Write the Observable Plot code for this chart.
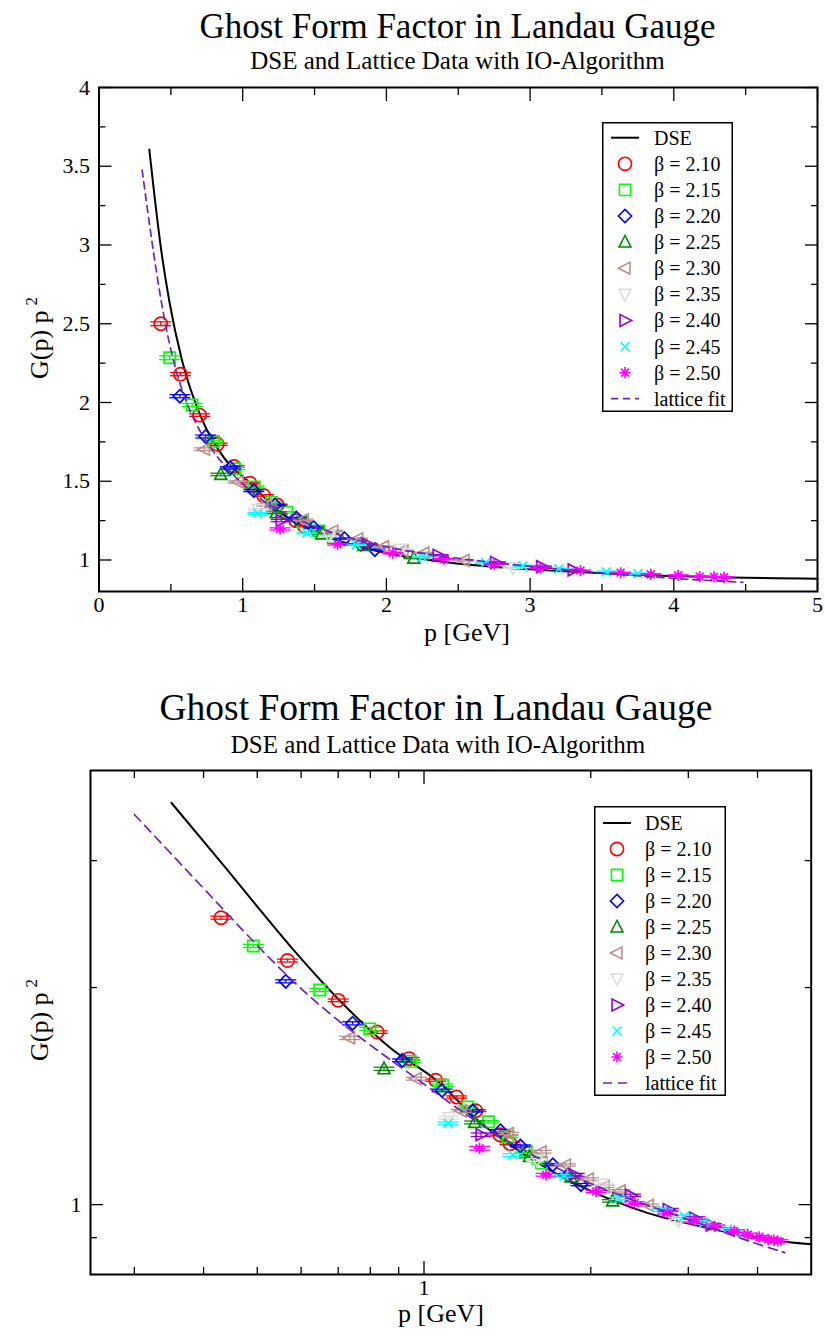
<!DOCTYPE html>
<html><head><meta charset="utf-8">
<script src="https://cdn.jsdelivr.net/npm/d3@7"></script>
<script src="https://cdn.jsdelivr.net/npm/@observablehq/plot@0.6"></script>
<style>
body{margin:0;background:#fff;font-family:"Liberation Serif","Times New Roman",serif;color:#000;}
#wrap{position:relative;width:825px;height:1338px;overflow:hidden;}
.abs{position:absolute;white-space:nowrap;line-height:1;}
.ctr{transform:translate(-50%,-50%);}
.title{font-size:35px;}
.title2{font-size:37.5px;}
.sub{font-size:25px;}
.axl{font-size:26px;}
.ylab{font-size:26px;transform:translate(-50%,-50%) rotate(-90deg);}
.ylab sup{font-size:17px;vertical-align:0;position:relative;top:-11px;margin-left:5px;}
.plotbox{position:absolute;left:0;}
</style></head><body><div id="wrap"></div>
<script>
// ---------------- data ----------------
const betas = ["2.10","2.15","2.20","2.25","2.30","2.35","2.40","2.45","2.50"];
const colors = ["#ff0000","#00ff00","#0000ff","#008b00","#bc8f8f","#dcdcdc","#9400d3","#00ffff","#ff00ff"];
const symbolKinds = ["circle","square","diamond","triangleUp","triangleLeft","triangleDown","triangleRight","cross","star"];

const p210 = [0.43, 0.567, 0.70, 0.823, 0.94, 1.05, 1.145, 1.24, 1.37, 1.43];
const g210 = [2.50, 2.18, 1.92, 1.735, 1.594, 1.488, 1.41, 1.35, 1.25, 1.215];
const e210 = [0.012, 0.010, 0.008, 0.007, 0.006, 0.005, 0.005, 0.004, 0.004, 0.004];

const p215 = [0.492, 0.648, 0.798, 0.945, 1.08, 1.20, 1.307, 1.417, 1.53, 1.63];
const g215 = [2.284, 1.984, 1.753, 1.58, 1.464, 1.366, 1.303, 1.242, 1.185, 1.142];
const e215 = [0.012, 0.010, 0.008, 0.007, 0.006, 0.005, 0.005, 0.004, 0.004, 0.004];

const p220 = [0.563, 0.743, 0.914, 1.078, 1.225, 1.374, 1.493, 1.708, 1.82, 1.92];
const g220 = [2.04, 1.784, 1.585, 1.44, 1.349, 1.266, 1.206, 1.136, 1.10, 1.066];
const e220 = [0.010, 0.009, 0.007, 0.006, 0.005, 0.005, 0.004, 0.004, 0.004, 0.004];

const p225 = [0.847, 1.234, 1.55, 1.843, 2.19];
const g225 = [1.543, 1.30, 1.166, 1.092, 1.012];
const e225 = [0.008, 0.006, 0.005, 0.004, 0.004];

const p230 = [0.734, 0.968, 1.167, 1.42, 1.627, 1.80, 1.98, 2.115, 2.26, 2.54];
const g230 = [1.703, 1.495, 1.349, 1.255, 1.184, 1.135, 1.085, 1.06, 1.045, 0.998];
const e230 = [0.009, 0.007, 0.006, 0.005, 0.005, 0.004, 0.004, 0.004, 0.004, 0.004];

const p235 = [1.11, 1.60, 2.10, 2.88];
const g235 = [1.32, 1.153, 1.068, 0.95];
const e235 = [0.006, 0.005, 0.004, 0.004];

const p240 = [1.268, 1.867, 2.36, 2.76, 3.08, 3.30];
const g240 = [1.25, 1.10, 1.03, 0.984, 0.958, 0.937];
const e240 = [0.007, 0.005, 0.004, 0.004, 0.004, 0.004];

const p245 = [1.105, 1.447, 1.79, 2.25, 2.69, 2.95, 3.20, 3.53, 3.75];
const g245 = [1.296, 1.172, 1.096, 1.02, 0.983, 0.963, 0.944, 0.925, 0.913];
const e245 = [0.006, 0.005, 0.004, 0.004, 0.004, 0.004, 0.004, 0.004, 0.004];

const p250 = [1.26, 1.661, 2.045, 2.40, 2.75, 3.07, 3.35, 3.63, 3.84, 4.03, 4.18, 4.28, 4.35];
const g250 = [1.197, 1.10, 1.043, 1.005, 0.974, 0.95, 0.933, 0.919, 0.909, 0.902, 0.895, 0.893, 0.89];
const e250 = [0.007, 0.005, 0.004, 0.004, 0.004, 0.004, 0.004, 0.004, 0.004, 0.004, 0.004, 0.004, 0.004];

const dseP = [0.35, 0.437, 0.49, 0.577, 0.71, 0.873, 1.05, 1.27, 1.5, 1.92, 2.53, 3.34, 4.2, 5.0];
const dseG = [3.607, 2.94, 2.64, 2.27, 1.907, 1.645, 1.49, 1.296, 1.18, 1.06, 0.974, 0.924, 0.893, 0.881];

const fitP = [0.30, 0.437, 0.577, 0.76, 1.0, 1.268, 1.92, 2.91, 3.84, 4.48];
const fitG = [3.476, 2.553, 2.032, 1.707, 1.472, 1.282, 1.071, 0.963, 0.89, 0.858];

const titleText = "Ghost Form Factor in Landau Gauge";
const subtitleText = "DSE and Lattice Data with IO-Algorithm";
const xLabelText = "p [GeV]";
const legendDSE = "DSE";
const legendFit = "lattice fit";

// linear chart ticks
const linXMajor = [0, 1, 2, 3, 4, 5];
const linXMinor = [0.5, 1.5, 2.5, 3.5, 4.5];
const linYMajor = [1, 1.5, 2, 2.5, 3, 3.5, 4];
const linYMinor = [1.25, 1.75, 2.25, 2.75, 3.25, 3.75];
// log chart ticks
const logXMajor = [1];
const logXMinor = [0.3, 0.4, 0.5, 0.6, 0.7, 0.8, 0.9, 2, 3, 4];
const logYMajor = [1];
const logYMinor = [0.9, 2, 3];

const seriesP = [p210, p215, p220, p225, p230, p235, p240, p245, p250];
const seriesG = [g210, g215, g220, g225, g230, g235, g240, g245, g250];
const seriesE = [e210, e215, e220, e225, e230, e235, e240, e245, e250];

// ---------------- symbols ----------------
function makeSymbol(kind) {
  return {draw(ctx, size) {
    const r = Math.sqrt(size / Math.PI);
    switch (kind) {
      case "circle": ctx.moveTo(r, 0); ctx.arc(0, 0, r, 0, 2 * Math.PI); break;
      case "square": { const s = r * 0.85; ctx.moveTo(-s, -s); ctx.lineTo(s, -s); ctx.lineTo(s, s); ctx.lineTo(-s, s); ctx.closePath(); break; }
      case "diamond": ctx.moveTo(0, -r); ctx.lineTo(r, 0); ctx.lineTo(0, r); ctx.lineTo(-r, 0); ctx.closePath(); break;
      case "triangleUp": ctx.moveTo(0, -r); ctx.lineTo(0.9 * r, 0.75 * r); ctx.lineTo(-0.9 * r, 0.75 * r); ctx.closePath(); break;
      case "triangleDown": ctx.moveTo(0, r); ctx.lineTo(0.9 * r, -0.75 * r); ctx.lineTo(-0.9 * r, -0.75 * r); ctx.closePath(); break;
      case "triangleLeft": ctx.moveTo(-r, 0); ctx.lineTo(0.75 * r, -0.9 * r); ctx.lineTo(0.75 * r, 0.9 * r); ctx.closePath(); break;
      case "triangleRight": ctx.moveTo(r, 0); ctx.lineTo(-0.75 * r, -0.9 * r); ctx.lineTo(-0.75 * r, 0.9 * r); ctx.closePath(); break;
      case "cross": { const s = 0.68 * r; ctx.moveTo(-s, -s); ctx.lineTo(s, s); ctx.moveTo(s, -s); ctx.lineTo(-s, s); break; }
      case "star": { const s = 0.85 * r, d = 0.6 * r; ctx.moveTo(-s, 0); ctx.lineTo(s, 0); ctx.moveTo(0, -s); ctx.lineTo(0, s); ctx.moveTo(-d, -d); ctx.lineTo(d, d); ctx.moveTo(d, -d); ctx.lineTo(-d, d); break; }
      case "hline": ctx.moveTo(-r, 0); ctx.lineTo(r, 0); break;
    }
  }};
}
const MR = 6.6;   // marker radius
const CAP = 10.5; // error cap half width
const FIT_COLOR = "#7221bc";

const seriesData = betas.map((b, k) => seriesP[k].map((p, i) => ({p, g: seriesG[k][i], e: seriesE[k][i]})));
const dseData = dseP.map((p, i) => ({p, g: dseG[i]}));
const fitData = fitP.map((p, i) => ({p, g: fitG[i]}));

function axisMarks(xMaj, xMin, yMaj, yMin) {
  const fmt = d => String(d);
  const m = [];
  for (const a of ["bottom", "top"]) {
    m.push(Plot.axisX(xMaj, {anchor: a, tickSize: -13, text: null, label: null, strokeWidth: 1.3}));
    m.push(Plot.axisX(xMin, {anchor: a, tickSize: -7, text: null, label: null, strokeWidth: 1.3}));
  }
  for (const a of ["left", "right"]) {
    m.push(Plot.axisY(yMaj, {anchor: a, tickSize: -13, text: null, label: null, strokeWidth: 1.3}));
    m.push(Plot.axisY(yMin, {anchor: a, tickSize: -7, text: null, label: null, strokeWidth: 1.3}));
  }
  m.push(Plot.axisX(xMaj, {anchor: "bottom", tickSize: 0, tickPadding: 5, tickFormat: fmt, label: null}));
  m.push(Plot.axisY(yMaj, {anchor: "left", tickSize: 0, tickPadding: 9, tickFormat: fmt, label: null}));
  return m;
}

function dataMarks(dash) {
  const m = [];
  m.push(Plot.line(dseData, {x: "p", y: "g", stroke: "black", strokeWidth: 2, curve: "monotone-x"}));
  seriesData.forEach((data, k) => {
    const c = colors[k];
    m.push(Plot.ruleX(data, {x: "p", y1: d => d.g - d.e, y2: d => d.g + d.e, stroke: c, strokeWidth: 1.3}));
    m.push(Plot.dot(data, {x: "p", y: d => d.g + d.e, r: CAP, symbol: makeSymbol("hline"), fill: "none", stroke: c, strokeWidth: 1.3}));
    m.push(Plot.dot(data, {x: "p", y: d => d.g - d.e, r: CAP, symbol: makeSymbol("hline"), fill: "none", stroke: c, strokeWidth: 1.3}));
    m.push(Plot.dot(data, {x: "p", y: "g", r: MR, symbol: makeSymbol(symbolKinds[k]), fill: "none", stroke: c, strokeWidth: 1.7}));
  });
  m.push(Plot.line(fitData, {x: "p", y: "g", stroke: FIT_COLOR, strokeWidth: 1.7, strokeDasharray: dash, curve: "basis"}));
  return m;
}

const baseStyle = {fontFamily: "Liberation Serif, Times New Roman, serif", fontSize: "22px", color: "black", background: "white", overflow: "visible"};

const chartLin = Plot.plot({
  width: 825, height: 660,
  marginLeft: 98.5, marginRight: 8, marginTop: 87, marginBottom: 69,
  style: baseStyle,
  x: {type: "linear", domain: [0, 5]},
  y: {type: "linear", domain: [0.8, 4]},
  marks: [
    ...dataMarks("7,5"),
    ...axisMarks(linXMajor, linXMinor, linYMajor, linYMinor),
    Plot.frame({stroke: "black", strokeWidth: 2})
  ]
});

const chartLog = Plot.plot({
  width: 825, height: 660,
  marginLeft: 90, marginRight: 14.3, marginTop: 90, marginBottom: 66,
  style: baseStyle,
  x: {type: "log", domain: [0.25, 5]},
  y: {type: "log", domain: [0.8, 4]},
  marks: [
    ...dataMarks("9,6"),
    ...axisMarks(logXMajor, logXMinor, logYMajor, logYMinor),
    Plot.frame({stroke: "black", strokeWidth: 2})
  ]
});

const wrap = document.getElementById("wrap");
function place(node, top) {
  const d = document.createElement("div");
  d.className = "plotbox"; d.style.top = top + "px";
  d.appendChild(node); wrap.appendChild(d);
}
place(chartLin, 0);
place(chartLog, 680);

function addText(html, cls, x, y) {
  const d = document.createElement("div");
  d.className = "abs " + cls;
  d.style.left = x + "px"; d.style.top = y + "px";
  d.innerHTML = html;
  wrap.appendChild(d);
  return d;
}
// titles & labels, chart 1
addText(titleText, "title ctr", 457.5, 26);
addText(subtitleText, "sub ctr", 457.5, 60);
addText(xLabelText, "axl ctr", 467, 633);
addText("G(p) p<sup>2</sup>", "ylab", 40, 338);
// chart 2
addText(titleText, "title2 ctr", 436, 708);
addText(subtitleText, "sub ctr", 438, 744);
addText(xLabelText, "axl ctr", 441, 1314);
addText("G(p) p<sup>2</sup>", "ylab", 40, 1020);

function addLegend(left, top, w, h, symX, lineX1, lineX2, textX, y0, dy, dash) {
  const ns = "http://www.w3.org/2000/svg";
  const svg = document.createElementNS(ns, "svg");
  svg.setAttribute("width", w); svg.setAttribute("height", h);
  svg.style.position = "absolute"; svg.style.left = left + "px"; svg.style.top = top + "px";
  svg.setAttribute("font-family", "Liberation Serif, Times New Roman, serif");
  svg.setAttribute("font-size", "20");
  const rect = document.createElementNS(ns, "rect");
  rect.setAttribute("x", 0.75); rect.setAttribute("y", 0.75);
  rect.setAttribute("width", w - 1.5); rect.setAttribute("height", h - 1.5);
  rect.setAttribute("fill", "white"); rect.setAttribute("stroke", "black"); rect.setAttribute("stroke-width", 1.5);
  svg.appendChild(rect);
  const entries = [{label: legendDSE, type: "line", stroke: "black", dash: null, width: 2}];
  betas.forEach((b, k) => entries.push({label: "β = " + b, type: "sym", kind: symbolKinds[k], stroke: colors[k]}));
  entries.push({label: legendFit, type: "line", stroke: FIT_COLOR, dash: dash, width: 1.7});
  entries.forEach((e, i) => {
    const y = y0 + i * dy;
    if (e.type === "line") {
      const l = document.createElementNS(ns, "line");
      l.setAttribute("x1", lineX1); l.setAttribute("x2", lineX2);
      l.setAttribute("y1", y); l.setAttribute("y2", y);
      l.setAttribute("stroke", e.stroke); l.setAttribute("stroke-width", e.width);
      if (e.dash) l.setAttribute("stroke-dasharray", e.dash);
      svg.appendChild(l);
    } else {
      const path = d3.path();
      makeSymbol(e.kind).draw(path, MR * MR * Math.PI);
      const pe = document.createElementNS(ns, "path");
      pe.setAttribute("d", path.toString());
      pe.setAttribute("transform", `translate(${symX},${y})`);
      pe.setAttribute("fill", "none"); pe.setAttribute("stroke", e.stroke); pe.setAttribute("stroke-width", 1.6);
      svg.appendChild(pe);
    }
    const t = document.createElementNS(ns, "text");
    t.setAttribute("x", textX); t.setAttribute("y", y); t.setAttribute("dy", "0.35em");
    t.textContent = e.label;
    svg.appendChild(t);
  });
  wrap.appendChild(svg);
}
addLegend(602, 122, 131, 290, 23, 9, 37, 52, 15.7, 26.1, "7,5");
addLegend(594, 806, 132, 290, 23, 9, 37, 51, 17, 26, "9,6");
</script></body></html>
